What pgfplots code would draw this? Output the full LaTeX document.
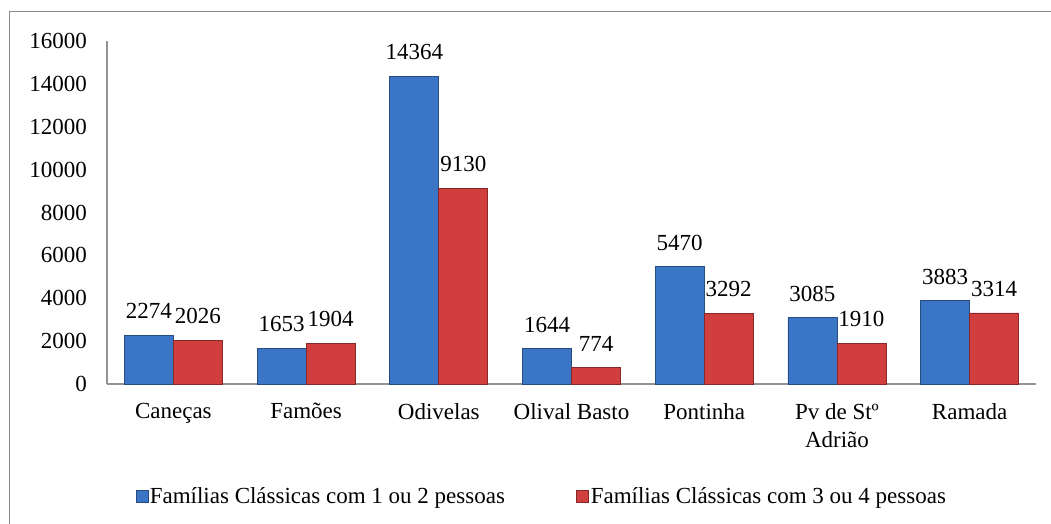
\documentclass[border=0pt]{standalone}
\usepackage{pgfplots}
\pgfplotsset{compat=1.18}
\usepackage{fontspec}
\setmainfont{Liberation Serif}
\definecolor{barblue}{RGB}{58,117,198}
\definecolor{barred}{RGB}{208,62,62}
\newcommand\f{\fontsize{23pt}{28pt}\selectfont}
\begin{document}
\f
\begin{tikzpicture}
\useasboundingbox (0,0) rectangle (1051pt,523pt);
\draw[gray!90, line width=1.5pt] (9.5pt,-20pt) -- (9.5pt,511.5pt) -- (1080pt,511.5pt);
\begin{axis}[
  at={(107pt,139pt)}, anchor=south west,
  scale only axis, width=929pt, height=343pt,
  xmin=-0.5, xmax=6.5, ymin=0, ymax=16000,
  ybar=0pt, bar width=49pt,
  xtick={0,...,6},
  xticklabels={Caneças, Famões, Odivelas, Olival Basto, Pontinha, {Pv de Stº\\Adrião}, Ramada},
  xticklabel style={align=center, anchor=north, inner sep=0pt, yshift=-19pt, font=\f},
  ytick={0,2000,...,16000},
  scaled y ticks=false,
  yticklabel style={anchor=east, inner sep=0pt, xshift=-20pt, font=\f},
  /pgf/number format/1000 sep={},
  /pgf/number format/assume math mode=true,
  axis x line*=bottom, axis y line*=left,
  axis line style={draw=gray!85, line width=1.5pt},
  major tick length=0pt,
  nodes near coords,
  nodes near coords style={font=\f, inner sep=0pt, anchor=south, yshift=16pt},
  legend columns=2,
  legend style={draw=none, at={(0.4677,-0.329)}, anchor=center, font=\f,
    /tikz/every even column/.append style={column sep=70pt},
    nodes={inner sep=1.5pt}},
  legend image code/.code={\path[#1] (0pt,-6pt) rectangle (12pt,6pt);},
]
\addplot[fill=barblue, draw=barblue!65!black, line width=0.8pt] coordinates {
(0,2274) (1,1653) (2,14364) (3,1644) (4,5470) (5,3085) (6,3883)};
\addplot[fill=barred, draw=barred!65!black, line width=0.8pt] coordinates {
(0,2026) (1,1904) (2,9130) (3,774) (4,3292) (5,1910) (6,3314)};
\legend{Famílias Clássicas com 1 ou 2 pessoas, Famílias Clássicas com 3 ou 4 pessoas}
\end{axis}
\end{tikzpicture}
\end{document}
